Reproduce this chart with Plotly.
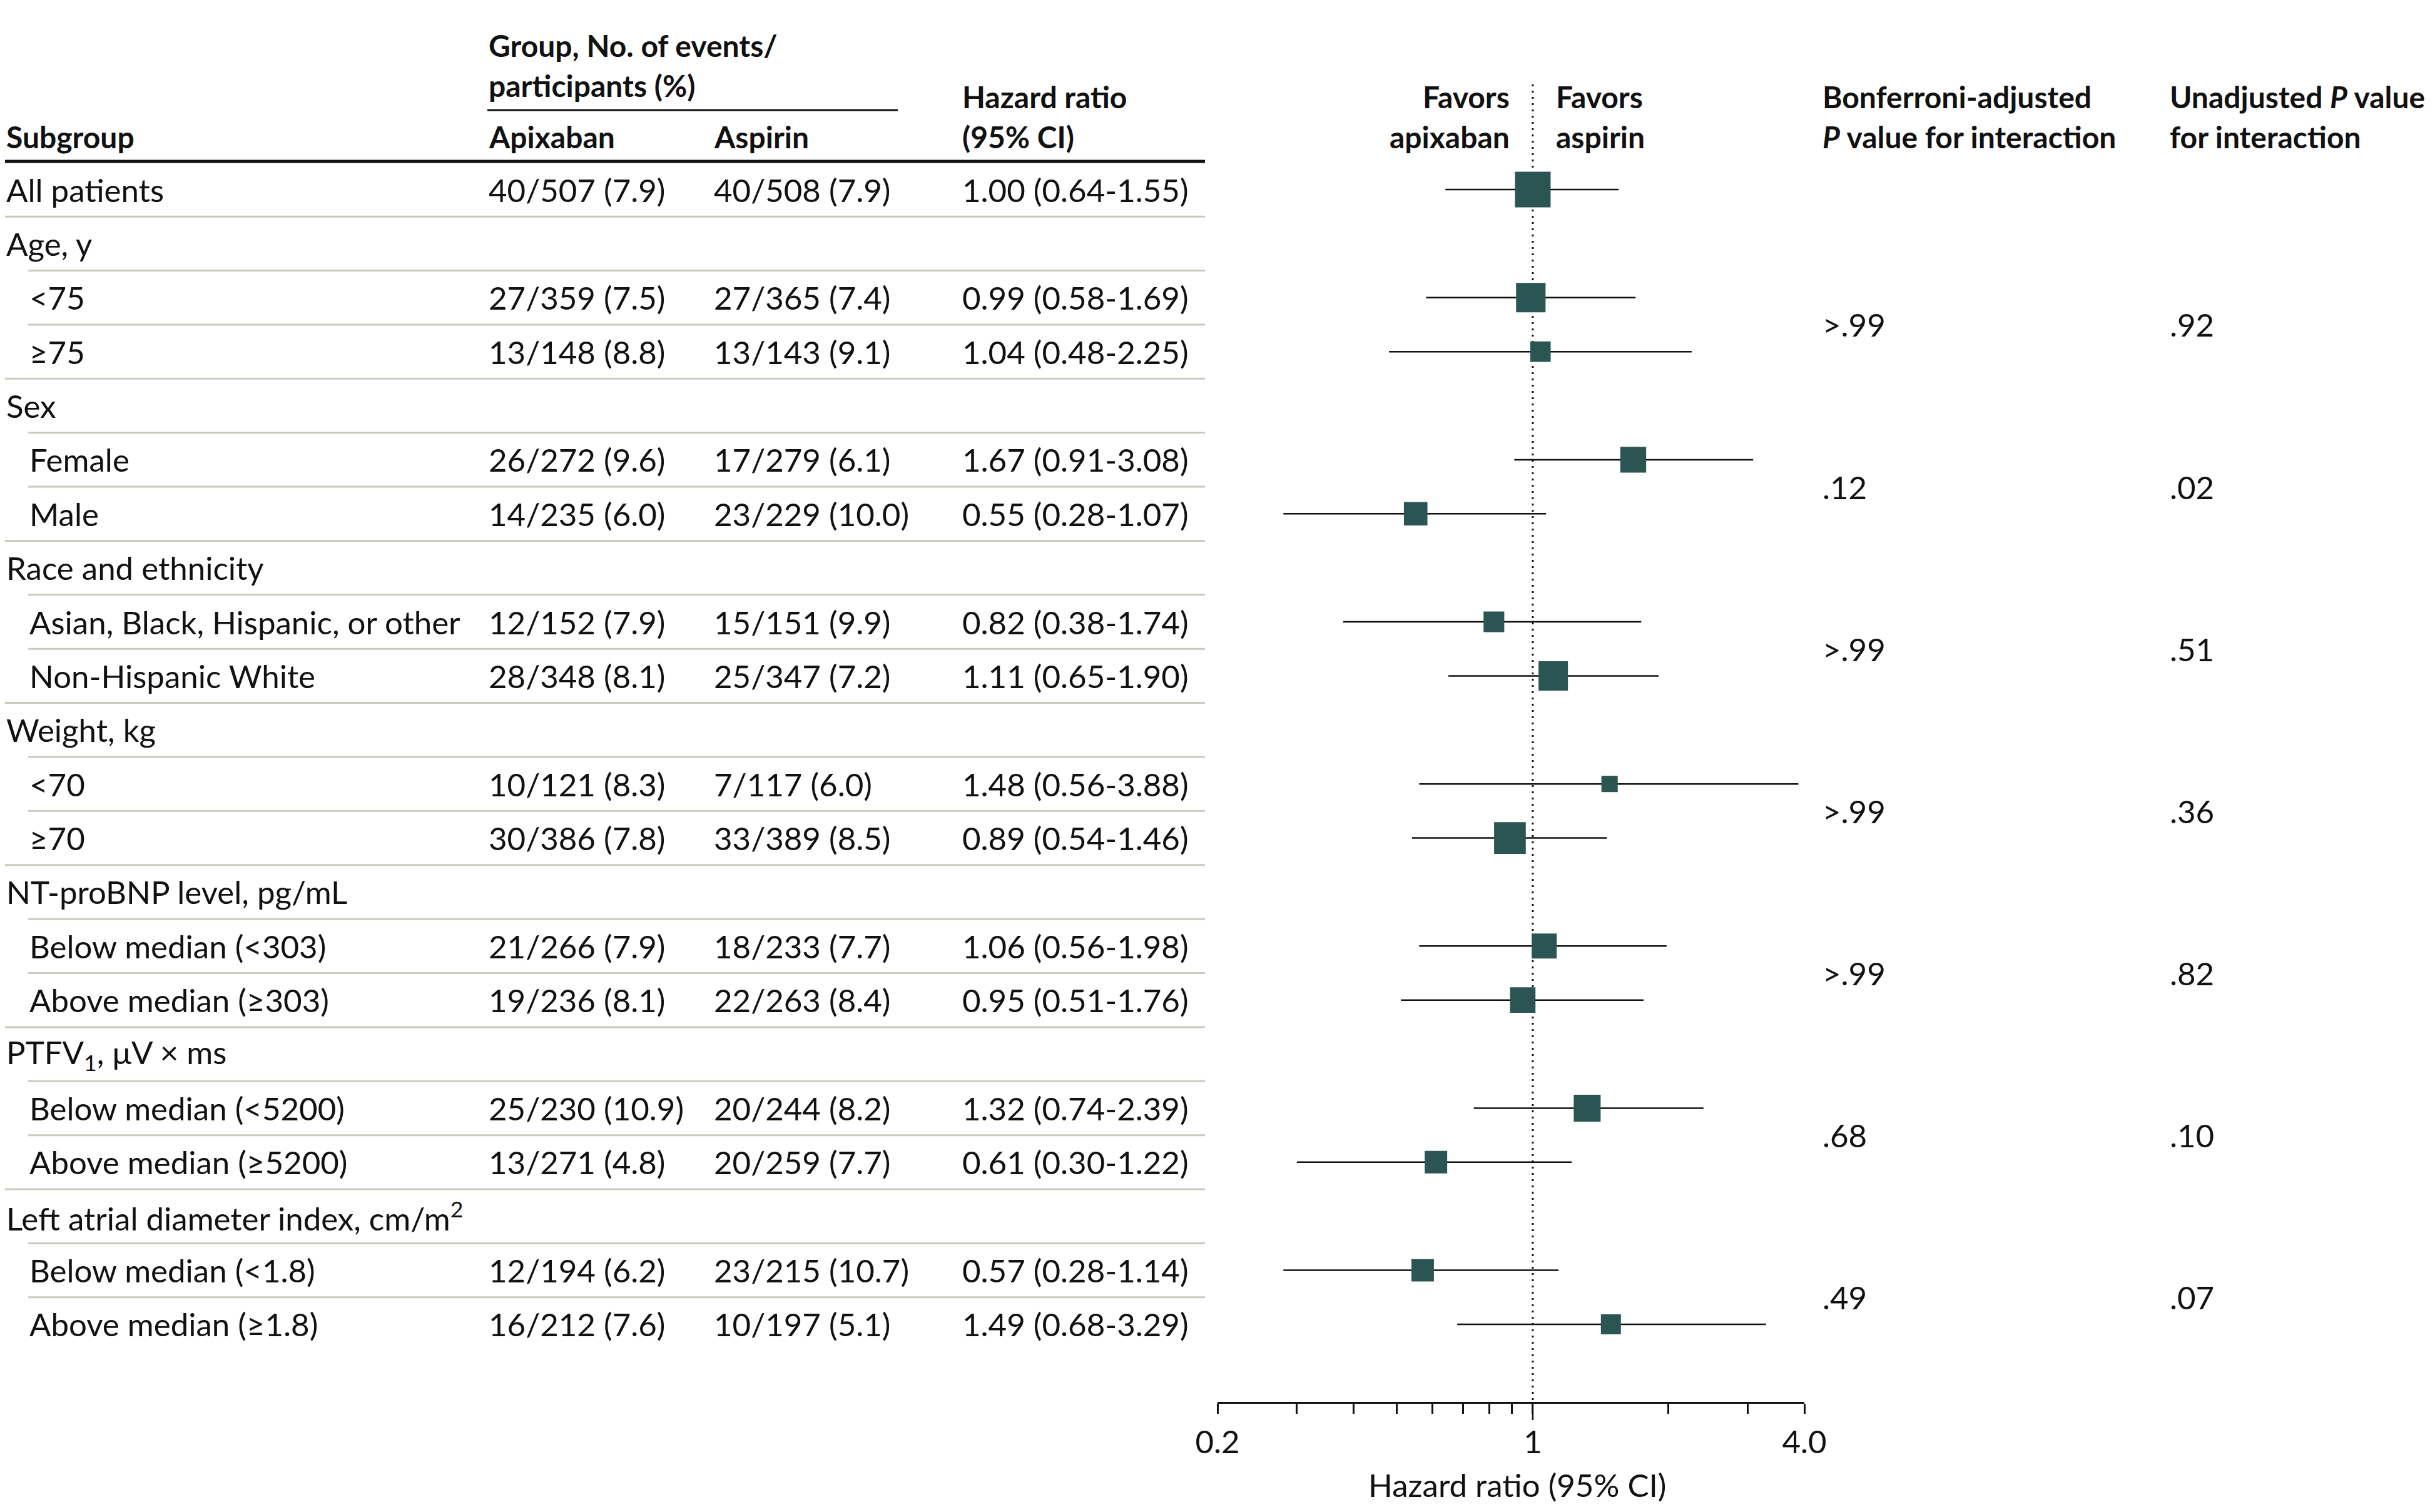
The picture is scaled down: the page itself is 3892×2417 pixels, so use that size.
import math
import plotly.graph_objects as go

# ---------------- data ----------------
subgroups = ["All patients", "Age, y", "<75", "≥75", "Sex", "Female", "Male",
             "Race and ethnicity", "Asian, Black, Hispanic, or other", "Non-Hispanic White",
             "Weight, kg", "<70", "≥70", "NT-proBNP level, pg/mL",
             "Below median (<303)", "Above median (≥303)",
             "PTFV<sub>1</sub>, μV × ms", "Below median (<5200)", "Above median (≥5200)",
             "Left atrial diameter index, cm/m<sup>2</sup>",
             "Below median (<1.8)", "Above median (≥1.8)"]
level = [0, 0, 1, 1, 0, 1, 1, 0, 1, 1, 0, 1, 1, 0, 1, 1, 0, 1, 1, 0, 1, 1]
apixaban = ["40/507 (7.9)", "", "27/359 (7.5)", "13/148 (8.8)", "", "26/272 (9.6)", "14/235 (6.0)",
            "", "12/152 (7.9)", "28/348 (8.1)", "", "10/121 (8.3)", "30/386 (7.8)",
            "", "21/266 (7.9)", "19/236 (8.1)", "", "25/230 (10.9)", "13/271 (4.8)",
            "", "12/194 (6.2)", "16/212 (7.6)"]
aspirin = ["40/508 (7.9)", "", "27/365 (7.4)", "13/143 (9.1)", "", "17/279 (6.1)", "23/229 (10.0)",
           "", "15/151 (9.9)", "25/347 (7.2)", "", "7/117 (6.0)", "33/389 (8.5)",
           "", "18/233 (7.7)", "22/263 (8.4)", "", "20/244 (8.2)", "20/259 (7.7)",
           "", "23/215 (10.7)", "10/197 (5.1)"]
hr = [1.00, None, 0.99, 1.04, None, 1.67, 0.55, None, 0.82, 1.11, None, 1.48, 0.89,
      None, 1.06, 0.95, None, 1.32, 0.61, None, 0.57, 1.49]
ci_lo = [0.64, None, 0.58, 0.48, None, 0.91, 0.28, None, 0.38, 0.65, None, 0.56, 0.54,
         None, 0.56, 0.51, None, 0.74, 0.30, None, 0.28, 0.68]
ci_hi = [1.55, None, 1.69, 2.25, None, 3.08, 1.07, None, 1.74, 1.90, None, 3.88, 1.46,
         None, 1.98, 1.76, None, 2.39, 1.22, None, 1.14, 3.29]
p_bonferroni = [">.99", ".12", ">.99", ">.99", ">.99", ".68", ".49"]
p_unadjusted = [".92", ".02", ".51", ".36", ".82", ".10", ".07"]
tick_values = [0.2, 0.3, 0.4, 0.5, 0.6, 0.7, 0.8, 0.9, 1, 2, 3, 4]
tick_labels = ["0.2", "", "", "", "", "", "", "", "1", "", "", "4.0"]

# ---------------- style / layout ----------------
# the page body adds an 8 px margin round the plot: size the figure to fit the window
OFF = 8
W, H = 3892 - 2 * OFF, 2417 - 2 * OFF
FONT = "Lato, 'Liberation Sans', Arial, sans-serif"
FS = 51
FS_HEAD = 48
TXT = "#111111"
BOX = "#2a5552"
SEP = "#c8cbbd"

def px(x):
    return max(0.0, (x - OFF) / W)

def py(y):
    return 1 - (y - OFF) / H

X_SUB, X_IND, X_APX, X_ASP, X_HR, X_END = 2, 45, 779, 1139, 1536, 1926
X_FAV_L, X_FAV_R = 2415, 2485
X_BON, X_UNA = 2911, 3466

# y axis in row units; domain bottom at axis line
AX_PIX = 2241
ROW0, PITCH = 303, 86.38
def row_of(pix):
    return (pix - ROW0) / PITCH
y_top = row_of(OFF)
y_bot = row_of(AX_PIX)

fig = go.Figure()

rows = list(range(len(subgroups)))
idx = [i for i in rows if hr[i] is not None]
xs = [hr[i] for i in idx]
ys = [i for i in idx]
err_p = [ci_hi[i] - hr[i] for i in idx]
err_m = [hr[i] - ci_lo[i] for i in idx]
# box size inversely proportional to standard error of log HR
se = [(math.log(ci_hi[i]) - math.log(ci_lo[i])) / 3.92 for i in idx]
sizes = [12.86 / s for s in se]

fig.add_trace(go.Scatter(
    x=xs, y=ys, mode="markers",
    marker=dict(symbol="square", size=sizes, color=BOX, opacity=1, line=dict(width=0)),
    error_x=dict(type="data", symmetric=False, array=err_p, arrayminus=err_m,
                 color="#111111", thickness=2.5, width=0),
    showlegend=False, hoverinfo="skip", cliponaxis=False,
))

fig.update_xaxes(type="log", range=[math.log10(0.2), math.log10(4)],
                 domain=[px(1946), px(2884)],
                 tickvals=tick_values, ticktext=tick_labels,
                 ticks="outside", ticklen=16, tickwidth=2.5, tickcolor="#111",
                 showline=True, linecolor="#111", linewidth=3,
                 showgrid=False, zeroline=False, automargin=False,
                 tickfont=dict(family=FONT, size=FS, color=TXT),
                 ticklabelstandoff=2)
fig.update_yaxes(range=[y_bot, y_top], domain=[py(AX_PIX), 1],
                 visible=False, showgrid=False, zeroline=False, automargin=False)

ann = []
def text(x, y, s, anchor="left", bold=False):
    ann.append(dict(x=x, y=y, xref="paper", yref="y", text=s, showarrow=False,
                    xanchor=anchor, yanchor="middle",
                    font=dict(family=FONT, size=FS_HEAD if bold else FS, color=TXT,
                              weight="bold" if bold else "normal")))

# headers
text(px(X_APX), row_of(72), "Group, No. of events/", bold=True)
text(px(X_APX), row_of(136), "participants (%)", bold=True)
text(px(X_SUB), row_of(218), "Subgroup", bold=True)
text(px(X_APX), row_of(218), "Apixaban", bold=True)
text(px(X_ASP), row_of(218), "Aspirin", bold=True)
text(px(X_HR), row_of(154), "Hazard ratio", bold=True)
text(px(X_HR), row_of(218), "(95% CI)", bold=True)
text(px(X_FAV_L), row_of(154), "Favors", anchor="right", bold=True)
text(px(X_FAV_L), row_of(218), "apixaban", anchor="right", bold=True)
text(px(X_FAV_R), row_of(154), "Favors", bold=True)
text(px(X_FAV_R), row_of(218), "aspirin", bold=True)
text(px(X_BON), row_of(154), "Bonferroni-adjusted", bold=True)
text(px(X_BON), row_of(218), "<i>P</i> value for interaction", bold=True)
text(px(X_UNA), row_of(154), "Unadjusted <i>P</i> value", bold=True)
text(px(X_UNA), row_of(218), "for interaction", bold=True)

# rows
for i in rows:
    text(px(X_SUB if level[i] == 0 else X_IND), i, subgroups[i])
    if apixaban[i]:
        text(px(X_APX), i, apixaban[i])
        text(px(X_ASP), i, aspirin[i])
        text(px(X_HR), i, f"{hr[i]:.2f} ({ci_lo[i]:.2f}-{ci_hi[i]:.2f})")

# p values centred between the two sub-rows of each category
cat_rows = [i for i in rows if level[i] == 0 and hr[i] is None]
for k, h in enumerate(cat_rows):
    text(px(X_BON), h + 1.5, p_bonferroni[k])
    text(px(X_UNA), h + 1.5, p_unadjusted[k])

# axis title
ann.append(dict(x=px(2425), y=py(2373), xref="paper", yref="paper",
                text="Hazard ratio (95% CI)", showarrow=False,
                xanchor="center", yanchor="middle",
                font=dict(family=FONT, size=FS, color=TXT)))

shapes = []
# header rules
shapes.append(dict(type="line", xref="paper", yref="y", x0=px(X_APX), x1=px(1435),
                   y0=row_of(176), y1=row_of(176), line=dict(color="#111", width=3)))
shapes.append(dict(type="line", xref="paper", yref="y", x0=0, x1=px(X_END),
                   y0=row_of(258), y1=row_of(258), line=dict(color="#111", width=5)))
# row separators
for i in rows[:-1]:
    x0 = 0 if level[i + 1] == 0 else px(X_IND)
    shapes.append(dict(type="line", xref="paper", yref="y", x0=x0, x1=px(X_END),
                       y0=i + 0.5, y1=i + 0.5, line=dict(color=SEP, width=3)))
# null line
shapes.append(dict(type="line", xref="x", yref="y", x0=1, x1=1,
                   y0=row_of(135), y1=y_bot, layer="below",
                   line=dict(color="#111", width=3, dash="3px,7px")))
# longer tick at 1
shapes.append(dict(type="line", xref="x", yref="paper", x0=1, x1=1,
                   y0=py(AX_PIX), y1=py(AX_PIX + 29),
                   line=dict(color="#111", width=2.5)))

fig.update_layout(width=W, height=H,
                  margin=dict(l=0, r=0, t=0, b=0, pad=0, autoexpand=False),
                  paper_bgcolor="white", plot_bgcolor="white",
                  annotations=ann, shapes=shapes,
                  font=dict(family=FONT, size=FS, color=TXT))

fig.write_html("out.html")
